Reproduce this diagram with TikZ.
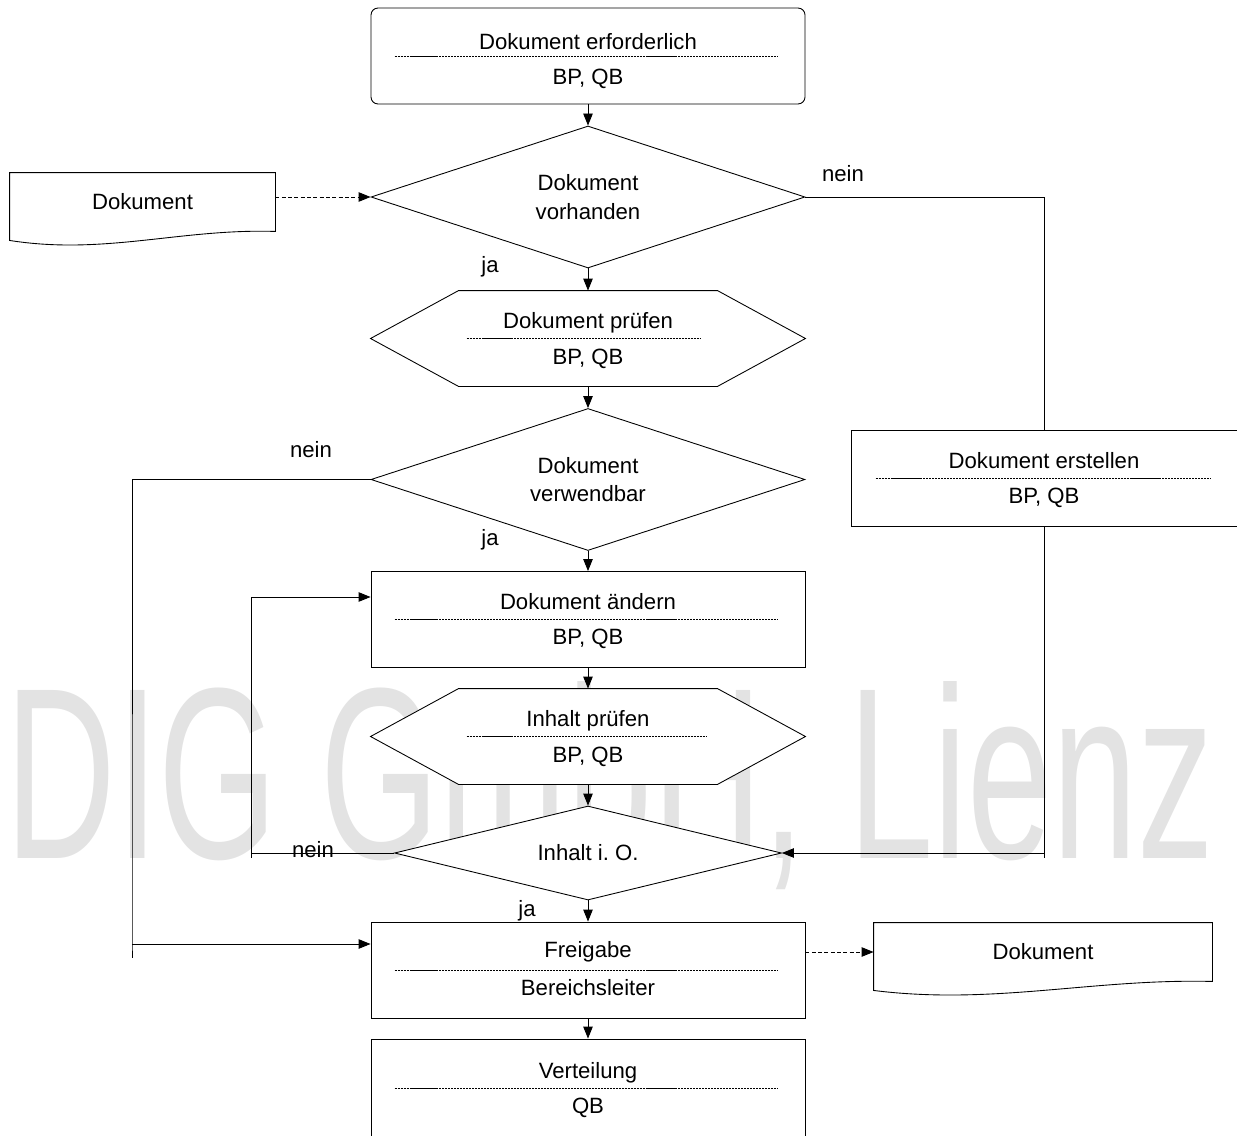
\documentclass[tikz,border=0pt]{standalone}
\usepackage{fontspec}
\setmainfont{Liberation Sans}
\usetikzlibrary{shapes.geometric,arrows.meta}

\tikzset{
  box/.style={draw, fill=white, minimum width=8.68cm, minimum height=1.92cm, inner sep=0pt},
  plain/.style={minimum width=8.68cm, minimum height=1.9cm, inner sep=0pt},
  decide/.style={draw, fill=white, diamond, aspect=3, inner sep=0pt, align=center,
    minimum width=8.68cm, minimum height=2.84cm},
  paper/.style={minimum height=1.16cm, inner sep=0pt},
  sepline/.style={line width=0.4pt, dash pattern=on 1.2pt off 0.5pt},
  flow/.style={dash pattern=on 2.2pt off 1.4pt}
}

\begin{document}
\begin{tikzpicture}[>={Triangle[length=2.4mm,width=1.9mm]}, line width=0.5pt,
  font=\fontsize{12.6}{16.4}\selectfont]
\useasboundingbox (0,0) rectangle (24.74,-22.72);

% watermark
\node[anchor=base, inner sep=0pt, xscale=0.627, text=black!11,
  font=\fontsize{139}{139}\selectfont] (wmark) at (12.2,-17.16) {DIG GmbH, Lienz};

% main column
\node[box, rounded corners=4pt] (need) at (11.76,-1.12) {};
\node[decide] (have) at (11.76,-3.94) {Dokument\\vorhanden};
\node[plain] (check) at (11.76,-6.77) {};
\node[decide] (usable) at (11.76,-9.59) {Dokument\\verwendbar};
\node[box] (change) at (11.76,-12.39) {};
\node[plain] (review) at (11.76,-14.73) {};
\node[decide, minimum width=7.74cm, minimum height=1.88cm] (ok) at (11.76,-17.06) {Inhalt i.\ O.};
\node[box] (release) at (11.76,-19.4) {};
\node[box, minimum height=1.96cm] (spread) at (11.76,-21.76) {};

% right side
\node[box, minimum width=7.72cm] (create) at (20.88,-9.56) {};

% hexagons
\draw[fill=white] (check.west) -- ([xshift=1.76cm]check.north west) -- ([xshift=-1.76cm]check.north east)
  -- (check.east) -- ([xshift=-1.76cm]check.south east) -- ([xshift=1.76cm]check.south west) -- cycle;
\draw[fill=white] (review.west) -- ([xshift=1.76cm]review.north west) -- ([xshift=-1.76cm]review.north east)
  -- (review.east) -- ([xshift=-1.76cm]review.south east) -- ([xshift=1.76cm]review.south west) -- cycle;

% documents
\node[paper, minimum width=5.3cm] (docin) at (2.85,-4.04) {Dokument};
\draw (docin.north west) -- (docin.north east) -- (docin.south east)
  .. controls +(-1.9,0.06) and +(1.9,-0.3) .. ([yshift=-0.18cm]docin.south west) -- cycle;
\node[paper, minimum width=6.76cm] (docout) at (20.86,-19.04) {Dokument};
\draw (docout.north west) -- (docout.north east) -- (docout.south east)
  .. controls +(-2.4,0.06) and +(2.4,-0.3) .. ([yshift=-0.18cm]docout.south west) -- cycle;

% separators
\draw[sepline] ([xshift=0.48cm]need.west) -- ([xshift=-0.54cm]need.east);
\draw[sepline] ([xshift=1.92cm]check.west) -- ([xshift=-2.1cm]check.east);
\draw[sepline] ([xshift=0.48cm]change.west) -- ([xshift=-0.54cm]change.east);
\draw[sepline] ([xshift=1.92cm]review.west) -- ([xshift=-1.96cm]review.east);
\draw[sepline] ([xshift=0.5cm]create.west) -- ([xshift=-0.54cm]create.east);
\draw[sepline] ([xshift=0.48cm]release.west) -- ([xshift=-0.54cm]release.east);
\draw[sepline] ([xshift=0.48cm]spread.west) -- ([xshift=-0.54cm]spread.east);

% texts
\node[anchor=base] (needtop) at ([yshift=0.13cm]need.center) {Dokument erforderlich};
\node[anchor=base] (needbot) at ([yshift=-0.57cm]need.center) {BP, QB};
\node[anchor=base] (checktop) at ([yshift=0.2cm]check.center) {Dokument prüfen};
\node[anchor=base] (checkbot) at ([yshift=-0.52cm]check.center) {BP, QB};
\node[anchor=base] (changetop) at ([yshift=0.2cm]change.center) {Dokument ändern};
\node[anchor=base] (changebot) at ([yshift=-0.5cm]change.center) {BP, QB};
\node[anchor=base] (reviewtop) at ([yshift=0.2cm]review.center) {Inhalt prüfen};
\node[anchor=base] (reviewbot) at ([yshift=-0.52cm]review.center) {BP, QB};
\node[anchor=base] (createtop) at ([yshift=0.2cm]create.center) {Dokument erstellen};
\node[anchor=base] (createbot) at ([yshift=-0.5cm]create.center) {BP, QB};
\node[anchor=base] (releasetop) at ([yshift=0.26cm]release.center) {Freigabe};
\node[anchor=base] (releasebot) at ([yshift=-0.5cm]release.center) {Bereichsleiter};
\node[anchor=base] (spreadtop) at ([yshift=0.2cm]spread.center) {Verteilung};
\node[anchor=base] (spreadbot) at ([yshift=-0.5cm]spread.center) {QB};

% main flow
\draw[->] (need) -- (have);
\draw[->] (have) -- (check);
\draw[->] (check) -- (usable);
\draw[->] (usable) -- (change);
\draw[->] (change) -- (review);
\draw[->] (review) -- (ok);
\draw[->] (ok) -- (release);
\draw[->] (release) -- (spread);

% side flows
\draw[->, flow] (docin.east |- have.west) -- (have.west);
\draw (have.east) -| (create.north);
\draw[->] (create.south) |- (ok.east);
\draw (create.south |- ok.east) -- ++(0,-0.1);

\coordinate (lft) at (2.64,-18.88);
\draw (usable.west) -| (lft) -- ++(0,-0.28);
\draw[->] (lft) -- (lft -| release.west);

\coordinate (back) at (5.02,-17.06);
\draw (ok.west) -- (back) -- ++(0,-0.1);
\draw[->] (back) |- ([yshift=0.45cm]change.west);

\draw[->, flow] (release.east |- docout.west) -- (docout.west);

% labels
\node (nein1) at (16.86,-3.48) {nein};
\node (ja1) at (9.8,-5.34) {ja};
\node (nein2) at (6.22,-9.0) {nein};
\node (ja2) at (9.8,-10.8) {ja};
\node (nein3) at (6.26,-17.0) {nein};
\node (ja3) at (10.54,-18.22) {ja};
\end{tikzpicture}
\end{document}
